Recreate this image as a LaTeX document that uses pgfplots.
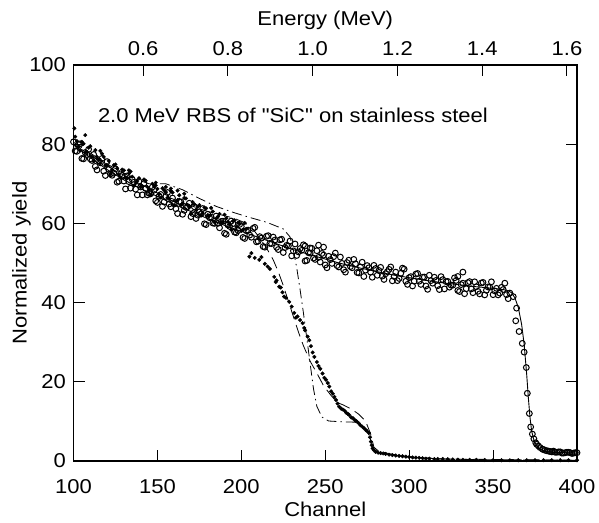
\documentclass[border=0pt]{standalone}
\usepackage{fontspec}
\setmainfont[FakeStretch=1.1]{Liberation Sans}
\newfontfamily\titlefont[FakeStretch=1.1]{Liberation Sans}
\usepackage{pgfplots}
\pgfplotsset{compat=1.18}
\newcommand{\lblfont}{\fontsize{20}{24}\selectfont}
\begin{document}
\begin{tikzpicture}
\useasboundingbox (-73.5pt,-61pt) rectangle (525.5pt,461pt);
\begin{axis}[
  scale only axis, width=503.5pt, height=396pt,
  xmin=100, xmax=400, ymin=0, ymax=100,
  xtick={100,150,...,400}, ytick={0,20,...,100},
  xtick pos=left, ytick pos=both, yticklabel pos=left,
  tick align=inside, major tick length=11pt,
  axis line style={line width=1.6pt},
  every tick/.style={black, line width=1pt},
  /pgf/number format/assume math mode=true,
  tick label style={font=\lblfont},
  xticklabel style={anchor=base, yshift=-32pt},
  yticklabel style={anchor=east, xshift=-4pt},
  label style={font=\lblfont},
  xlabel={Channel}, ylabel={Normalized yield},
  xlabel style={at={(axis description cs:0.5,-0.1389)}, anchor=base},
  ylabel style={at={(axis description cs:-0.0933,0.5)}, anchor=base},
]
% simulation A (dash-dot)
\addplot[black, line width=0.8pt, dash pattern=on 10pt off 4pt on 1.5pt off 4pt] coordinates {
(100,80.5) (120,75) (135,71.5) (145,70) (155,70) (165,68.5) (175,66.3) (185,64.3) (195,62.8) (205,61.5) (215,60.3) (225,58.6) (229,56.6) (231,53.2) (233,48.8) (235,43.3) (237,37.4) (239,31) (241,24.6) (243,18.2) (245,13.8) (248,11.1) (252,10.1) (260,9.9) (268,9.8) (272,9.1) (275,7.8) (277,5.4) (279,3) (282,2.1) (290,1.5) (300,1.0) (320,0.5) (350,0.3) (400,0.2)};
% simulation B (dashed)
\addplot[black, line width=0.8pt, dash pattern=on 12pt off 6pt] coordinates {
(100,80) (120,74.5) (135,71) (150,67.7) (165,65.2) (180,63) (195,61.4) (202,60.2) (207,58.5) (211,56.3) (215,53.8) (219,50.8) (222,47.8) (225,44.3) (228,40.4) (231,36.5) (234,32.6) (237,29.1) (241,25.2) (245,22.2) (249,19) (253,16.8) (257,14.8) (261,14.1) (266,13) (270,11.8) (274,10.1) (277,6.9) (279,3.5) (282,2.4) (290,1.7) (300,1.1) (320,0.5) (400,0.2)};
% open circles: SiC sample 1
\addplot[only marks, mark=o, mark size=2.9pt, mark options={line width=1pt, black}] coordinates {
(100,80.6) (102,78.2) (104,80.1) (106,76.3) (108,77.4) (110,76.3) (112,77.4) (114,73.5) (116,75.3) (118,73.2) (120,75.6) (122,72.5) (124,72.7) (126,70.4) (128,72.5) (130,70.7) (132,72.0) (134,68.9) (136,70.4) (138,67.2) (140,69.2) (142,70.1) (144,67.2) (146,67.5) (148,68.4) (150,65.3) (152,67.3) (154,65.4) (156,67.8) (158,64.2) (160,64.9) (162,62.5) (164,65.4) (166,63.3) (168,64.2) (170,61.7) (172,64.2) (174,62.1) (176,62.4) (178,59.9) (180,62.3) (182,61.6) (184,60.0) (186,60.0) (188,60.5) (190,57.5) (192,59.6) (194,60.6) (196,57.8) (198,58.2) (200,59.2) (202,56.2) (204,58.3) (206,56.5) (208,59.0) (210,55.5) (212,56.3) (214,54.0) (216,56.9) (218,54.9) (220,55.8) (222,53.4) (224,56.0) (226,53.9) (228,54.3) (230,51.8) (232,54.8) (234,52.8) (236,53.2) (238,50.5) (240,52.6) (242,53.7) (244,50.9) (246,51.4) (248,52.4) (250,49.5) (252,51.7) (254,49.9) (256,52.5) (258,49.0) (260,49.9) (262,47.7) (264,50.7) (266,48.8) (268,49.8) (270,47.5) (272,50.2) (274,48.2) (276,48.8) (278,46.4) (280,48.6) (282,48.1) (284,46.7) (286,47.3) (288,48.4) (290,45.5) (292,47.7) (294,46.1) (296,48.7) (298,45.4) (300,46.3) (302,44.2) (304,47.2) (306,45.4) (308,46.4) (310,44.2) (312,46.9) (314,44.9) (316,45.6) (318,43.3) (320,45.8) (322,45.3) (324,43.9) (326,44.4) (328,45.6) (330,42.8) (332,44.9) (334,43.5) (336,45.3) (338,42.5) (340,44.0) (342,42.2) (344,45.1) (346,43.1) (348,43.9) (350,42.0) (352,43.6) (354,42.4) (356,43.3) (358,42.0) (360,42.4)
(101,78.3) (103,79.9) (105,76.4) (107,77.9) (109,78.7) (111,75.9) (113,74.4) (115,75.8) (117,76.4) (119,72.1) (121,73.65) (123,72.15) (125,73.75) (127,70.65) (129,72.15) (131,68.7) (133,70.55) (135,71.1) (137,68.65) (139,70.6) (141,67.2) (143,68.8) (145,67.6) (147,69.2) (149,65.7) (151,66.9) (153,64.3) (155,66.8) (157,64.9) (159,66.4) (161,63.7) (163,65.55) (165,62.3) (167,64.05) (169,65.1) (171,62.5) (173,61.25) (175,62.9) (177,63.75) (179,59.7) (181,61.45) (183,60.1) (185,61.85) (187,58.9) (189,60.55) (191,57.25) (193,59.25) (195,59.95) (197,57.65) (199,59.75) (201,56.45) (203,58.15) (205,57.05) (207,58.75) (209,55.35) (211,56.65) (213,54.15) (215,56.75) (217,54.95) (219,56.55) (221,53.95) (223,55.85) (225,52.65) (227,54.45) (229,55.55) (231,53.05) (233,51.9) (235,53.65) (237,54.6) (239,50.65) (241,52.5) (243,51.25) (245,53.1) (247,50.25) (249,52.0) (251,48.8) (253,50.85) (255,51.6) (257,49.35) (259,51.5) (261,48.3) (263,50.1) (265,49.1) (267,50.9) (269,47.6) (271,49.0) (273,46.6) (275,49.35) (277,47.7) (279,49.4) (281,46.9) (283,48.9) (285,45.85) (287,47.8) (289,49.0) (291,46.6) (293,45.55) (295,47.4) (297,48.45) (299,44.6) (301,46.55) (303,45.4) (305,47.35) (307,44.6) (309,46.45) (311,43.35) (313,45.55) (315,46.4) (317,44.25) (319,46.55) (321,43.45) (323,45.35) (325,44.4) (327,46.25) (329,43.05) (331,44.55) (333,42.25) (335,45.05) (337,43.45) (339,45.25) (341,42.85) (343,44.95) (345,41.95) (347,43.95) (349,45.25) (351,42.95) (353,41.95) (355,43.85) (357,44.9) (359,41.0)
(238,54.3) (241,53.8) (246,54.5) (249,54.0) (332,47.7) (329,46.6)
(362,41.5) (363.5,35.4) (364,38.6) (365.5,32.7) (367.4,29.7) (368.5,27.5) (369.8,23.6) (370.4,17.1) (371.6,12.0) (372.4,8.6) (373.4,6.8) (374.3,5.6) (375.4,4.6) (376,4.2) (377,3.8) (378,3.4) (379.4,3.0) (380,2.9) (381,2.7) (382,2.6) (383,2.5) (384,2.4) (385,2.3) (386,2.5) (387,2.2) (388,2.2) (389,2.3) (390,2.3) (391,2.0) (392,2.0) (393,2.1) (394,2.2) (395,2.2) (396,2.1) (397,1.9) (398,2.0) (399,2.1) (400,2.1)};
% filled dots: SiC sample 2
\addplot[only marks, mark=*, mark size=1.8pt, black] coordinates {
(100.5,84.0) (107,82.3) (101,81.9) (103,79.4) (105,80.6) (107,78.0) (109,79.1) (111,76.9) (113,78.5) (115,76.0) (117,77.6) (119,74.6) (121,75.8) (123,73.5) (125,74.9) (127,72.3) (129,73.6) (131,71.5) (133,72.6) (135,71.8) (137,70.2) (139,71.4) (141,69.3) (143,70.8) (145,68.6) (147,70.0) (149,69.6) (151,67.4) (153,68.9) (155,67.9) (157,66.2) (159,67.8) (161,65.5) (163,67.1) (165,65.0) (167,66.3) (169,64.1) (171,65.4) (173,63.4) (175,64.6) (177,62.6) (179,63.8) (181,61.9) (183,63.0) (185,61.2) (187,62.4) (189,60.4) (191,61.3) (193,59.7) (195,60.6) (197,59.1) (199,59.9) (201,58.4) (203,58.6)
(102,80.8) (104,78.4) (106,80.1) (108,78.0) (110,79.5) (112,75.7) (114,76.8) (116,75.2) (118,76.8) (120,74.7) (122,72.5) (124,74.7) (126,73.9) (128,71.6) (130,73.4) (132,71.5) (134,73.1) (136,69.5) (138,70.7) (140,69.3) (142,71.1) (144,69.2) (146,67.1) (148,69.4) (150,68.7) (152,66.5) (154,68.4) (156,66.5) (158,68.2) (160,64.6) (162,65.9) (164,64.6) (166,66.4) (168,64.6) (170,62.5) (172,64.8) (174,64.2) (176,62.0) (178,64.0) (180,62.1) (182,63.9) (184,60.3) (186,61.7) (188,60.3) (190,62.2) (192,60.4) (194,58.4) (196,60.8) (198,60.2) (200,58.1) (202,60.1)
(116,78.3) (133,73.4) (149,70.3) (155,69.2) (158,68.8) (162,68.3) (166,67.5)
(204.8,51.6) (206,52.5) (208,51.3) (210.7,50.8) (212,51.5) (214,49.8) (215.7,49.1) (217,48.5) (219.6,46.5) (221,45.6) (222.6,44) (224.5,42.6) (226.6,41.2) (228.5,40.2) (231.5,37.4) (233.5,36.5) (236.5,34.8) (238,33) (239.5,31.4) (241.5,29) (243.5,26.3) (246,24) (248.4,22.1) (250.5,20.5) (252.4,18.8) (254.5,17) (256.4,15.4) (258.3,13.7) (260.5,13) (262.5,12.2) (264.3,11.6) (266.5,10.8) (268.3,10.1) (270,9.5) (272,8.7) (274.2,7.8) (276,7.1) (277.2,4.9) (278.2,3.2) (280,2.3) (283,2.0) (286,1.8) (290,1.5) (294,1.3) (298,1.1) (302,0.9) (306,0.8) (310,0.6) (315,0.5) (320,0.5) (326,0.4) (332,0.3) (340,0.3) (350,0.2) (360,0.2) (370,0.2) (380,0.2) (390,0.2) (400,0.2)
(220.5,45.2) (223.5,43.8) (225.5,41.5) (230,39.0) (232.5,36.2) (235,35.6) (237.5,33.6) (240.5,30.5) (242.5,27.4) (245,25.0) (247,23.3) (249.5,21.0) (251.5,19.7) (253.5,17.6) (255.5,16.2) (257.3,14.5) (259.5,13.2) (261.5,12.7) (263.5,11.9) (265.5,11.0) (267.5,10.4) (269,9.9) (271,9.0) (273,8.3) (275,7.5) (276.7,6.0) (277.7,4.0) (279,2.7) (281.5,2.1) (284.5,1.9) (288,1.6) (292,1.4) (296,1.2) (300,1.0) (304,0.85) (308,0.7) (312,0.6) (317,0.5) (323,0.45) (329,0.35) (336,0.3) (345,0.25) (355,0.2) (365,0.2) (375,0.2) (385,0.2) (395,0.2)};
% simulation for sample 1 (solid)
\addplot[black, line width=0.9pt] coordinates {
(100,79.8) (110,76.6) (120,73.6) (130,71.0) (140,68.8) (150,66.8) (160,64.8) (170,63.0) (180,61.2) (190,59.5) (200,58.0) (210,56.5) (220,55.0) (230,53.5) (240,52.2) (250,51.0) (260,49.8) (270,48.8) (280,47.9) (290,47.0) (300,46.3) (310,45.6) (320,45.0) (330,44.5) (340,44.0) (350,43.6) (356,43.3) (359,43.0) (361,42.5) (363,41.2) (365,38.8) (367,34.5) (368.5,29.5) (370,22) (371,16) (372,11) (373,7.5) (374.5,5) (376,3.8) (378,3) (381,2.5) (385,2.2) (400,2.0)};
\node[anchor=base west, font=\lblfont\titlefont] at (axis cs:112.5,85.6) {2.0 MeV RBS of "SiC" on stainless steel};
\end{axis}
\begin{axis}[
  scale only axis, width=503.5pt, height=396pt,
  xmin=0.4356, xmax=1.6237, ymin=0, ymax=100,
  axis x line*=top, axis y line=none,
  x axis line style={-, line width=1.6pt},
  xtick={0.6,0.8,1.0,1.2,1.4,1.6},
  tick align=inside, major tick length=11pt,
  every tick/.style={black, line width=1pt},
  /pgf/number format/assume math mode=true,
  xticklabel style={font=\lblfont, anchor=base, yshift=9pt, /pgf/number format/.cd, fixed, fixed zerofill, precision=1},
  xlabel={Energy (MeV)},
  xlabel style={font=\lblfont, at={(axis description cs:0.5,1.0985)}, anchor=base},
]
\end{axis}
\end{tikzpicture}
\end{document}
